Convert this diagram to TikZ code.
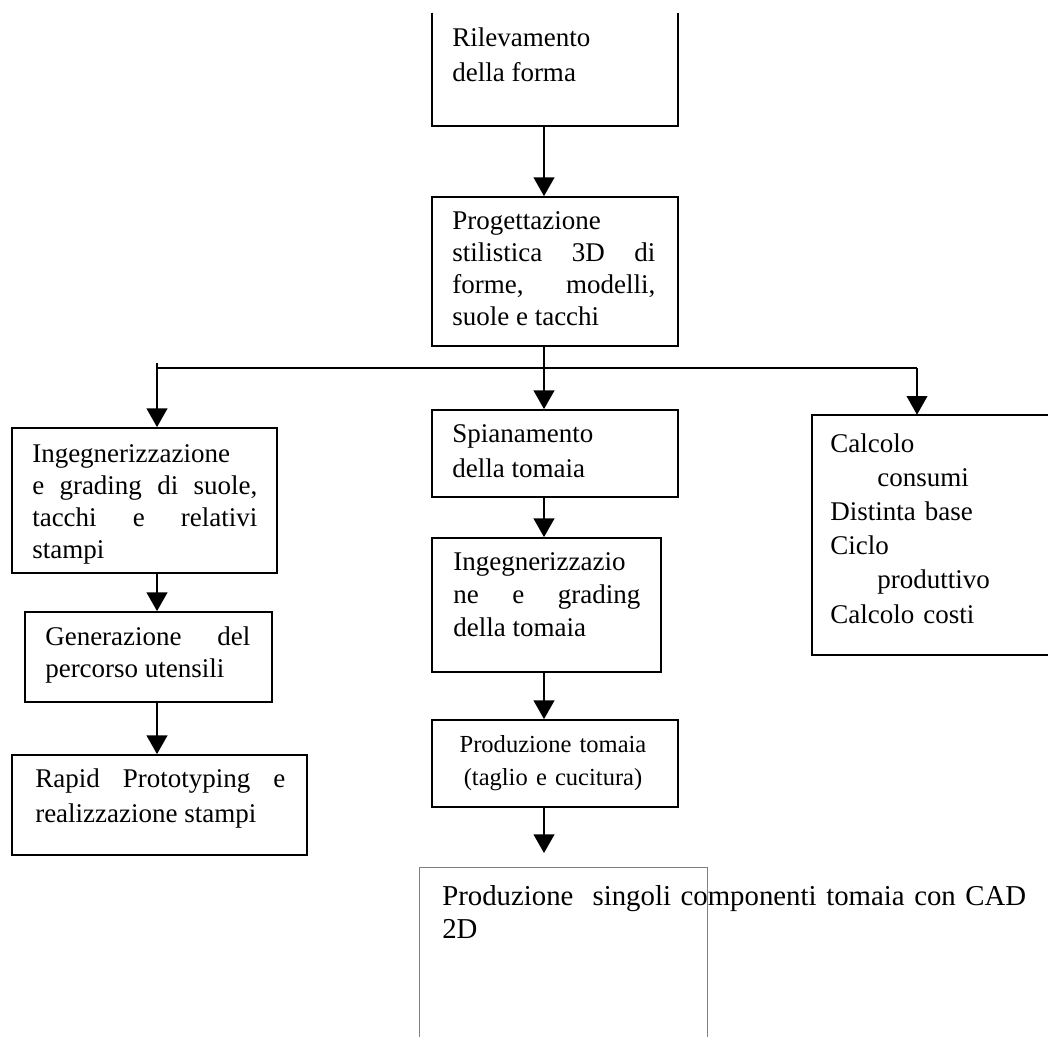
\documentclass[tikz,border=0pt]{standalone}
\usepackage{fontspec}
\setmainfont{Liberation Serif}
\usetikzlibrary{arrows.meta,fit}
\tikzset{
  box/.style={draw, line width=1.3pt, inner sep=0pt},
  openbox/.style={inner sep=0pt},
  link/.style={line width=1.3pt},
  arr/.style={line width=1.3pt, -{Triangle[width=15.5pt,length=14pt]}},
  txt/.style={anchor=base west, inner sep=0pt, align=justify,
    font=\fontsize{20.25pt}{24pt}\selectfont},
}
\begin{document}
\begin{tikzpicture}[x=0.75pt,y=-0.75pt]
  \useasboundingbox (0,0) rectangle (1048,1037);
  % columns of the arrows
  \coordinate (midx) at (544,0);
  \coordinate (leftx) at (157,0);
  \coordinate (rightx) at (917,0);
  \coordinate (busl) at (157,368);
  \coordinate (busr) at (917,368);

  % boxes, middle column
  \node[openbox, fit={(432,13) (678,126)}] (rilev) {};
  \draw[link] (rilev.north west) -- (rilev.south west) -- (rilev.south east) -- (rilev.north east);
  \node[box, fit={(432,197) (678,346)}] (prog) {};
  \node[box, fit={(432,410) (678,497)}] (spian) {};
  \node[box, fit={(432,538) (661,672)}] (ingm) {};
  \node[box, fit={(432,720) (678,807)}] (prodt) {};
  \node[openbox, fit={(420,868) (707,1037)}] (cad) {};
  \draw[gray, line width=0.7pt] (cad.south west) -- (cad.north west) -- (cad.north east) -- (cad.south east);

  % boxes, left column
  \node[box, fit={(12,428) (277,573)}] (ingl) {};
  \node[box, fit={(25,612) (272,702)}] (gener) {};
  \node[box, fit={(12,755) (307,855)}] (rapid) {};

  % box, right column (cut at the edge)
  \node[openbox, fit={(812,415) (1048,655)}] (calc) {};
  \draw[link] (calc.north east) -- (calc.north west) -- (calc.south west) -- (calc.south east);

  % texts
  \node[txt, text width=152pt, font=\fontsize{20.25pt}{26.25pt}\selectfont] (rilevtxt) at (452,47)
    {Rilevamento\\ della forma};
  \node[txt, text width=152.25pt] (progtxt) at (452,230)
    {Progettazione\\ stilistica 3D di\linebreak forme, modelli,\linebreak suole e tacchi};
  \node[txt, text width=152pt, font=\fontsize{20.25pt}{26.25pt}\selectfont] (spiantxt) at (452,442)
    {Spianamento\\ della tomaia};
  \node[txt, text width=140.25pt, font=\fontsize{20.25pt}{24.75pt}\selectfont] (ingmtxt) at (453,570)
    {Ingegnerizzazio\\ ne e grading\linebreak della tomaia};
  \node[txt, anchor=base, align=center, text width=180pt, font=\fontsize{18.4pt}{24.75pt}\selectfont] (prodttxt) at (553,752)
    {Produzione tomaia\\ (taglio e cucitura)};
  \node[txt, align=left, text width=450pt, font=\fontsize{21.6pt}{24.75pt}\selectfont] (cadtxt) at (442,905)
    {Produzione\ \ singoli componenti tomaia con CAD 2D};
  \node[txt, text width=168.75pt] (ingltxt) at (32,462)
    {Ingegnerizzazione\\ e grading di suole,\linebreak tacchi e relativi\linebreak stampi};
  \node[txt, text width=153.75pt] (genertxt) at (45,645)
    {Generazione del\linebreak percorso utensili};
  \node[txt, text width=187.5pt, font=\fontsize{20.25pt}{26.25pt}\selectfont] (rapidtxt) at (35,787)
    {Rapid Prototyping e\linebreak realizzazione stampi};
  \node[txt, align=left, text width=170pt, font=\fontsize{20.25pt}{25.65pt}\selectfont] (calctxt) at (830,452)
    {Calcolo\\ \hspace*{35.25pt}consumi\\ Distinta base\\ Ciclo\\ \hspace*{35.25pt}produttivo\\ Calcolo costi};

  % connectors
  \draw[arr] (rilev.south -| midx) -- (prog.north -| midx);
  \draw[arr] (prog.south -| midx) -- (spian.north -| midx);
  \draw[link] (busl) -- (busr);
  \draw[arr] (busl) ++(0,-5) -- (ingl.north -| leftx);
  \draw[arr] (busr) -- (calc.north -| rightx);
  \draw[arr] (spian.south -| midx) -- (ingm.north -| midx);
  \draw[arr] (ingm.south -| midx) -- (prodt.north -| midx);
  \draw[arr] (prodt.south -| midx) -- ([yshift=11pt]cad.north -| midx);
  \draw[arr] (ingl.south -| leftx) -- (gener.north -| leftx);
  \draw[arr] (gener.south -| leftx) -- (rapid.north -| leftx);
\end{tikzpicture}
\end{document}
